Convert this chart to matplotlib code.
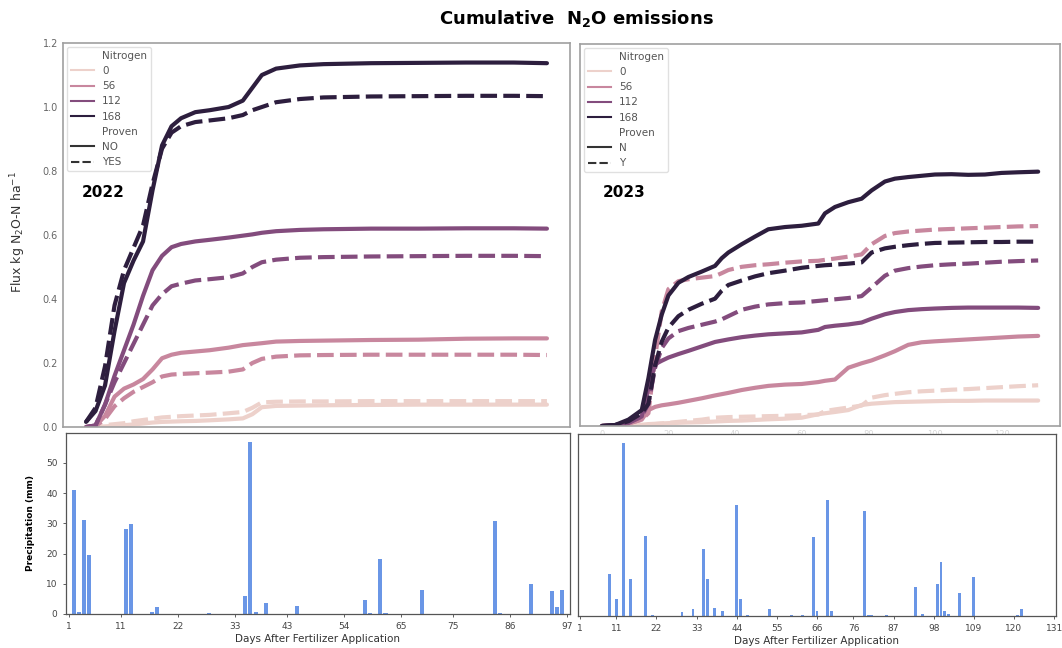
import numpy as np
import matplotlib
matplotlib.use('Agg')
import matplotlib.pyplot as plt
from matplotlib.lines import Line2D
import seaborn as sns

# уровни азота и обозначения
nitrogen = [0, 56, 112, 168]
proven_22 = ['NO', 'YES']
proven_23 = ['N', 'Y']

# 2022: общая сетка дней и кумулятивные потоки (кг N2O-N/га)
d22 = [0, 2, 4, 6, 8, 10, 12, 14, 16, 18, 20, 23, 26, 30, 33, 35, 37, 40, 45, 50, 60, 70, 80, 90, 97]
f22_0_no = [0.0, 0.001, 0.002, 0.004, 0.006, 0.008, 0.011, 0.014, 0.016, 0.017, 0.018, 0.019, 0.021, 0.024, 0.027, 0.04, 0.062, 0.066, 0.067, 0.068, 0.069, 0.07, 0.07, 0.07, 0.07]
f22_0_yes = [0.0, 0.003, 0.006, 0.009, 0.012, 0.018, 0.022, 0.026, 0.03, 0.032, 0.034, 0.036, 0.038, 0.043, 0.047, 0.06, 0.077, 0.079, 0.08, 0.08, 0.081, 0.081, 0.081, 0.081, 0.081]
f22_56_no = [0.0, 0.003, 0.035, 0.095, 0.12, 0.133, 0.15, 0.18, 0.215, 0.226, 0.232, 0.236, 0.24, 0.248, 0.256, 0.259, 0.262, 0.267, 0.269, 0.27, 0.272, 0.273, 0.276, 0.277, 0.277]
f22_56_yes = [0.0, 0.003, 0.025, 0.065, 0.09, 0.11, 0.125, 0.14, 0.158, 0.164, 0.166, 0.168, 0.17, 0.173, 0.18, 0.2, 0.213, 0.22, 0.224, 0.225, 0.226, 0.226, 0.226, 0.226, 0.225]
f22_112_no = [0.0, 0.005, 0.07, 0.16, 0.24, 0.32, 0.41, 0.49, 0.535, 0.562, 0.572, 0.58, 0.585, 0.592, 0.598, 0.602, 0.607, 0.612, 0.616, 0.618, 0.62, 0.62, 0.621, 0.621, 0.62]
f22_112_yes = [0.0, 0.005, 0.07, 0.14, 0.2, 0.26, 0.32, 0.38, 0.415, 0.44, 0.448, 0.458, 0.462, 0.468, 0.48, 0.5, 0.515, 0.523, 0.529, 0.531, 0.533, 0.534, 0.535, 0.535, 0.534]
f22_168_no = [0.016, 0.05, 0.13, 0.3, 0.45, 0.52, 0.58, 0.74, 0.88, 0.94, 0.965, 0.984, 0.99, 1.0, 1.02, 1.06, 1.1, 1.12, 1.13, 1.134, 1.137, 1.138, 1.139, 1.139, 1.137]
f22_168_yes = [0.016, 0.06, 0.19, 0.38, 0.49, 0.56, 0.63, 0.76, 0.87, 0.92, 0.94, 0.953, 0.958, 0.965, 0.975, 0.99, 1.0, 1.015, 1.025, 1.03, 1.033, 1.034, 1.035, 1.035, 1.034]

# 2023
d23 = [0, 4, 8, 12, 14, 16, 18, 20, 23, 26, 30, 34, 36, 38, 42, 46, 50, 55, 60, 65, 67, 70, 74, 78, 81, 85, 88, 92, 96, 100, 105, 110, 115, 120, 125, 131]
f23_0_n = [0.0, 0.0, 0.002, 0.004, 0.006, 0.007, 0.008, 0.009, 0.01, 0.011, 0.012, 0.014, 0.015, 0.016, 0.017, 0.019, 0.021, 0.023, 0.026, 0.037, 0.04, 0.044, 0.05, 0.066, 0.07, 0.073, 0.075, 0.076, 0.077, 0.078, 0.079, 0.079, 0.08, 0.08, 0.08, 0.08]
f23_0_y = [0.0, 0.0, 0.001, 0.003, 0.004, 0.006, 0.008, 0.01, 0.013, 0.016, 0.02, 0.026, 0.027, 0.028, 0.029, 0.03, 0.031, 0.032, 0.034, 0.036, 0.047, 0.052, 0.058, 0.064, 0.089, 0.097, 0.101, 0.106, 0.109, 0.111, 0.114, 0.116, 0.119, 0.122, 0.125, 0.128]
f23_56_n = [0.0, 0.002, 0.008, 0.02, 0.05, 0.06, 0.065, 0.068, 0.073, 0.079, 0.087, 0.096, 0.1, 0.104, 0.113, 0.12, 0.126, 0.13, 0.132, 0.138, 0.142, 0.146, 0.183, 0.197, 0.206, 0.222, 0.235, 0.255, 0.263, 0.266, 0.269, 0.272, 0.275, 0.278, 0.281, 0.283]
f23_56_y = [0.0, 0.002, 0.008, 0.02, 0.04, 0.215, 0.36, 0.43, 0.455, 0.461, 0.466, 0.471, 0.48, 0.49, 0.5, 0.505, 0.508, 0.513, 0.517, 0.519, 0.522, 0.526, 0.532, 0.539, 0.571, 0.597, 0.606, 0.611, 0.614, 0.617, 0.619, 0.621, 0.623, 0.625, 0.627, 0.628]
f23_112_n = [0.0, 0.002, 0.01, 0.03, 0.12, 0.194, 0.205, 0.215, 0.226, 0.236, 0.25, 0.264, 0.268, 0.272, 0.279, 0.284, 0.288, 0.291, 0.294, 0.302, 0.311, 0.315, 0.319, 0.325, 0.337, 0.351, 0.358, 0.364, 0.367, 0.369, 0.371, 0.372, 0.372, 0.372, 0.372, 0.371]
f23_112_y = [0.0, 0.002, 0.01, 0.03, 0.07, 0.183, 0.245, 0.275, 0.298, 0.308, 0.318, 0.328, 0.335, 0.345, 0.365, 0.375, 0.382, 0.386, 0.388, 0.393, 0.395, 0.398, 0.402, 0.408, 0.435, 0.472, 0.488, 0.496, 0.501, 0.505, 0.508, 0.51, 0.513, 0.516, 0.518, 0.52]
f23_168_n = [0.0, 0.003, 0.02, 0.05, 0.15, 0.27, 0.35, 0.41, 0.45, 0.468, 0.485, 0.503, 0.527, 0.545, 0.571, 0.595, 0.618, 0.625, 0.629, 0.636, 0.668, 0.688, 0.703, 0.714, 0.74, 0.768, 0.777, 0.782, 0.786, 0.79, 0.791, 0.789, 0.79, 0.795, 0.797, 0.799]
f23_168_y = [0.0, 0.003, 0.015, 0.04, 0.07, 0.19, 0.265, 0.309, 0.345, 0.365, 0.384, 0.4, 0.425, 0.443, 0.457, 0.47, 0.48, 0.488, 0.497, 0.503, 0.505, 0.507, 0.51, 0.514, 0.545, 0.558, 0.563, 0.568, 0.572, 0.575, 0.576, 0.577, 0.578, 0.578, 0.579, 0.579]

# осадки (мм) по дням после внесения удобрений
rain22_day = [2, 3, 4, 5, 12, 13, 17, 18, 28, 35, 36, 37, 39, 45, 58, 59, 61, 62, 69, 83, 84, 90, 94, 95, 96]
rain22_mm = [41, 0.5, 31, 19.5, 28, 29.8, 0.8, 2.2, 0.3, 6, 57, 0.8, 3.5, 2.5, 4.5, 0.3, 18.2, 0.3, 7.8, 30.7, 0.3, 9.8, 7.5, 2.2, 7.8]
rain23_day = [9, 11, 13, 15, 19, 21, 29, 32, 35, 36, 38, 40, 44, 45, 47, 53, 59, 62, 65, 66, 69, 70, 79, 80, 81, 85, 93, 95, 99, 100, 101, 102, 105, 109, 121, 122]
rain23_mm = [13.7, 5.5, 57, 12, 26.2, 0.3, 1.2, 2.4, 22, 12, 2.6, 1.5, 36.6, 5.5, 0.3, 2.2, 0.3, 0.3, 26, 1.8, 38.2, 1.5, 34.4, 0.3, 0.3, 0.3, 9.6, 0.5, 10.5, 17.6, 1.5, 0.7, 7.4, 12.8, 0.3, 2.4]

ticks22 = [1, 11, 22, 33, 43, 54, 65, 75, 86, 97]
ticks23 = [1, 11, 22, 33, 44, 55, 66, 76, 87, 98, 109, 120, 131]

cmap = sns.cubehelix_palette(as_cmap=True)

series22 = {(0, 'NO'): f22_0_no, (0, 'YES'): f22_0_yes,
            (56, 'NO'): f22_56_no, (56, 'YES'): f22_56_yes,
            (112, 'NO'): f22_112_no, (112, 'YES'): f22_112_yes,
            (168, 'NO'): f22_168_no, (168, 'YES'): f22_168_yes}
series23 = {(0, 'N'): f23_0_n, (0, 'Y'): f23_0_y,
            (56, 'N'): f23_56_n, (56, 'Y'): f23_56_y,
            (112, 'N'): f23_112_n, (112, 'Y'): f23_112_y,
            (168, 'N'): f23_168_n, (168, 'Y'): f23_168_y}

fig = plt.figure(figsize=(10.62, 6.48), dpi=100)

ax_tl = fig.add_axes([0.0593, 0.341, 0.4774, 0.5926])
ax_tr = fig.add_axes([0.5461, 0.3426, 0.452, 0.5895])
ax_bl = fig.add_axes([0.0621, 0.0525, 0.4746, 0.2793])
ax_br = fig.add_axes([0.5443, 0.0494, 0.4500, 0.2809])


def flux_panel(ax, days, series, labels, year):
    for (n, p), vals in series.items():
        ls = '-' if p == labels[0] else (0, (4, 1.5))
        ax.plot(days, vals, color=cmap(n / 168), lw=3, ls=ls, solid_capstyle='round')
    ax.set_ylim(0, 1.2)
    for s in ax.spines.values():
        s.set_color('#a0a0a0')
        s.set_linewidth(1.2)
    ax.tick_params(length=0, labelsize=7, colors='#666666')
    # легенда в стиле seaborn
    handles = [Line2D([], [], color='none')]
    names = ['Nitrogen']
    for n in nitrogen:
        handles.append(Line2D([], [], color=cmap(n / 168), lw=1.5))
        names.append(str(n))
    handles.append(Line2D([], [], color='none'))
    names.append('Proven')
    handles.append(Line2D([], [], color='#333333', lw=1.5))
    handles.append(Line2D([], [], color='#333333', lw=1.5, ls=(0, (4, 1.5))))
    names += labels
    leg = ax.legend(handles, names, loc='upper left', fontsize=7.5, labelspacing=0.5,
                    borderaxespad=0.35, handlelength=2.2, framealpha=0.9, edgecolor='#dddddd')
    for t in leg.get_texts():
        t.set_color('#555555')
    ax.text(0.08 if year == '2022' else 0.093, 0.61, year, transform=ax.transAxes,
            fontsize=11, fontweight='bold', ha='center', va='center')


flux_panel(ax_tl, d22, series22, proven_22, '2022')
flux_panel(ax_tr, d23, series23, proven_23, '2023')
ax_tl.set_xticks([])
ax_tr.set_yticks([])
ax_tr.set_xticks([0, 20, 40, 60, 80, 100, 120])
ax_tr.tick_params(axis='x', labelsize=6, colors='#d8d8d8', pad=3)

# осадки
for ax, days, mm, ticks, xmax in [(ax_bl, rain22_day, rain22_mm, ticks22, 97.5),
                                  (ax_br, rain23_day, rain23_mm, ticks23, 131.5)]:
    ax.bar(days, mm, width=0.8, color='#6a96e6')
    ax.set_xlim(0.5, xmax)
    ax.set_ylim(0, 59.85)
    ax.set_xticks(ticks)
    ax.tick_params(labelsize=6.5, colors='#444444', length=2.5, width=0.6)
    for s in ax.spines.values():
        s.set_color('#555555')
        s.set_linewidth(0.9)
    ax.set_xlabel('Days After Fertilizer Application', fontsize=7.5,
                  color='#333333', labelpad=2)

ax_bl.set_yticks([0, 10, 20, 30, 40, 50])
ax_bl.set_ylabel('Precipitation (mm)', fontsize=6.5, fontweight='bold', labelpad=8)
ax_br.set_yticks([])

fig.text(0.017, 0.642, 'Flux kg N$_2$O-N ha$^{-1}$', rotation=90, ha='center', va='center',
         fontsize=9, color='#333333')
fig.text(0.5424, 0.972, 'Cumulative  N$_\\mathbf{2}$O emissions', ha='center', va='center',
         fontsize=13, fontweight='bold')

fig.savefig('out.png', dpi=100)
